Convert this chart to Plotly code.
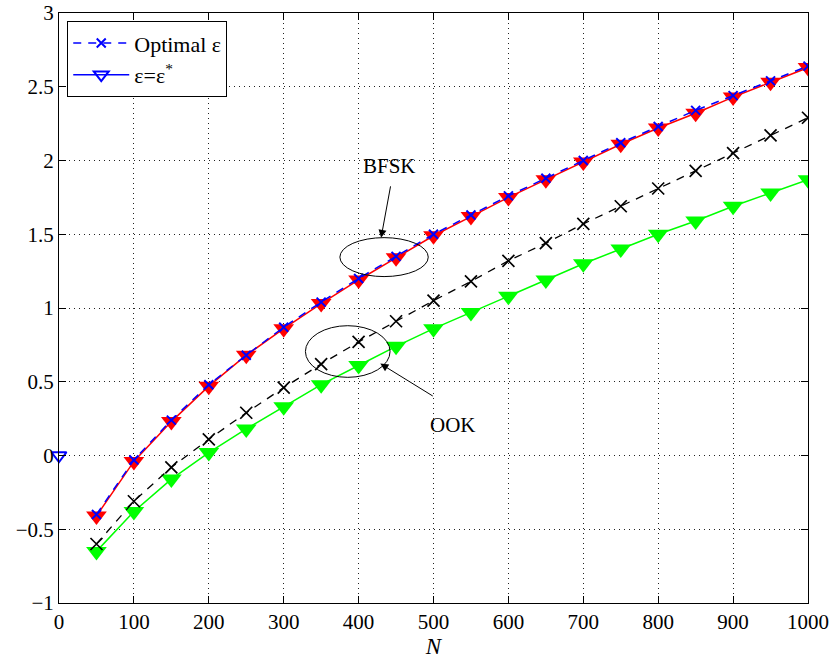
import plotly.graph_objects as go

N = [50, 100, 150, 200, 250, 300, 350, 400, 450, 500, 550, 600, 650, 700, 750, 800, 850, 900, 950, 1000]
bfsk_opt = [-0.40, -0.03, 0.24, 0.48, 0.68, 0.87, 1.04, 1.20, 1.35, 1.50, 1.63, 1.76, 1.88, 2.00, 2.12, 2.23, 2.34, 2.44, 2.54, 2.64]
bfsk_star = [-0.41, -0.04, 0.23, 0.47, 0.68, 0.86, 1.03, 1.19, 1.34, 1.49, 1.62, 1.75, 1.87, 1.99, 2.11, 2.22, 2.32, 2.43, 2.53, 2.63]
ook_opt = [-0.60, -0.31, -0.08, 0.11, 0.29, 0.46, 0.62, 0.77, 0.91, 1.05, 1.18, 1.32, 1.44, 1.57, 1.69, 1.81, 1.93, 2.05, 2.17, 2.29]
ook_star = [-0.65, -0.38, -0.16, 0.02, 0.18, 0.33, 0.48, 0.61, 0.74, 0.86, 0.97, 1.08, 1.19, 1.30, 1.40, 1.50, 1.59, 1.69, 1.78, 1.87]
legend_pt_x = [0]
legend_pt_y = [0]
x_ticks = [0, 100, 200, 300, 400, 500, 600, 700, 800, 900, 1000]
y_ticks = [-1, -0.5, 0, 0.5, 1, 1.5, 2, 2.5, 3]
y_ticktext = ["−1", "−0.5", "0", "0.5", "1", "1.5", "2", "2.5", "3"]

FONT = "Liberation Serif"

fig = go.Figure()
fig.add_trace(go.Scatter(x=N, y=ook_star, mode="lines+markers", showlegend=False,
                         line=dict(color="#00ff00", width=1.5),
                         marker=dict(symbol="triangle-down", size=18, color="#00ff00")))
fig.add_trace(go.Scatter(x=N, y=ook_opt, mode="lines+markers", showlegend=False,
                         line=dict(color="black", width=1.3, dash="8px,7px"),
                         marker=dict(symbol="x-thin", size=12, line=dict(color="black", width=1.7))))
fig.add_trace(go.Scatter(x=N, y=bfsk_star, mode="lines+markers", showlegend=False,
                         line=dict(color="red", width=1.5),
                         marker=dict(symbol="triangle-down", size=18, color="red")))
fig.add_trace(go.Scatter(x=N, y=bfsk_opt, mode="lines+markers", name="Optimal ε",
                         line=dict(color="blue", width=1.5, dash="8px,7px"),
                         marker=dict(symbol="x-thin", size=9, line=dict(color="blue", width=2))))
fig.add_trace(go.Scatter(x=legend_pt_x, y=legend_pt_y, mode="lines+markers", name="ε=ε<sup>*</sup>",
                         cliponaxis=False,
                         line=dict(color="blue", width=1.5),
                         marker=dict(symbol="triangle-down-open", size=13, color="blue", line=dict(width=2))))

axis_common = dict(showline=True, linecolor="black", linewidth=1, mirror="allticks",
                   ticks="inside", ticklen=7, tickcolor="black", automargin=False,
                   ticklabeloverflow="allow",
                   showgrid=True, gridcolor="#222222", griddash="1px,4px", gridwidth=1,
                   zeroline=False, tickfont=dict(family=FONT, size=21, color="black"))

fig.update_xaxes(range=[0, 1000], tickvals=x_ticks,
                 title=dict(text="<i>N</i>", font=dict(family=FONT, size=23, color="black"), standoff=0),
                 **axis_common)
fig.update_yaxes(range=[-1, 3], tickvals=y_ticks, ticktext=y_ticktext, **axis_common)

# ellipses
fig.add_shape(type="circle", xref="x", yref="y", x0=375, x1=493, y0=1.213, y1=1.477,
              line=dict(color="black", width=1))
fig.add_shape(type="circle", xref="x", yref="y", x0=329, x1=442, y0=0.53, y1=0.88,
              line=dict(color="black", width=1))

# annotations
fig.add_annotation(x=430, y=1.476, ax=443, ay=1.835, xref="x", yref="y", axref="x", ayref="y",
                   text="", showarrow=True, arrowhead=2, arrowsize=1.6, arrowwidth=1, arrowcolor="black")
fig.add_annotation(x=441, y=1.96, xref="x", yref="y", text="BFSK", showarrow=False,
                   font=dict(family=FONT, size=21, color="black"))
fig.add_annotation(x=429, y=0.623, ax=501, ay=0.397, xref="x", yref="y", axref="x", ayref="y",
                   text="", showarrow=True, arrowhead=2, arrowsize=1.6, arrowwidth=1, arrowcolor="black")
fig.add_annotation(x=526, y=0.208, xref="x", yref="y", text="OOK", showarrow=False,
                   font=dict(family=FONT, size=21, color="black"))

fig.update_layout(
    width=834, height=661,
    margin=dict(l=59, r=26, t=13, b=58, autoexpand=False),
    paper_bgcolor="white", plot_bgcolor="white",
    font=dict(family=FONT, size=21, color="black"),
    legend=dict(x=0.011, y=0.986, xanchor="left", yanchor="top",
                bgcolor="white", bordercolor="black", borderwidth=1,
                font=dict(family=FONT, size=22, color="black"),
                itemwidth=56, tracegroupgap=0),
)

fig.write_html("out.html", config={"displayModeBar": False},
               post_script="document.body.style.margin='0';document.body.style.overflow='hidden';")
